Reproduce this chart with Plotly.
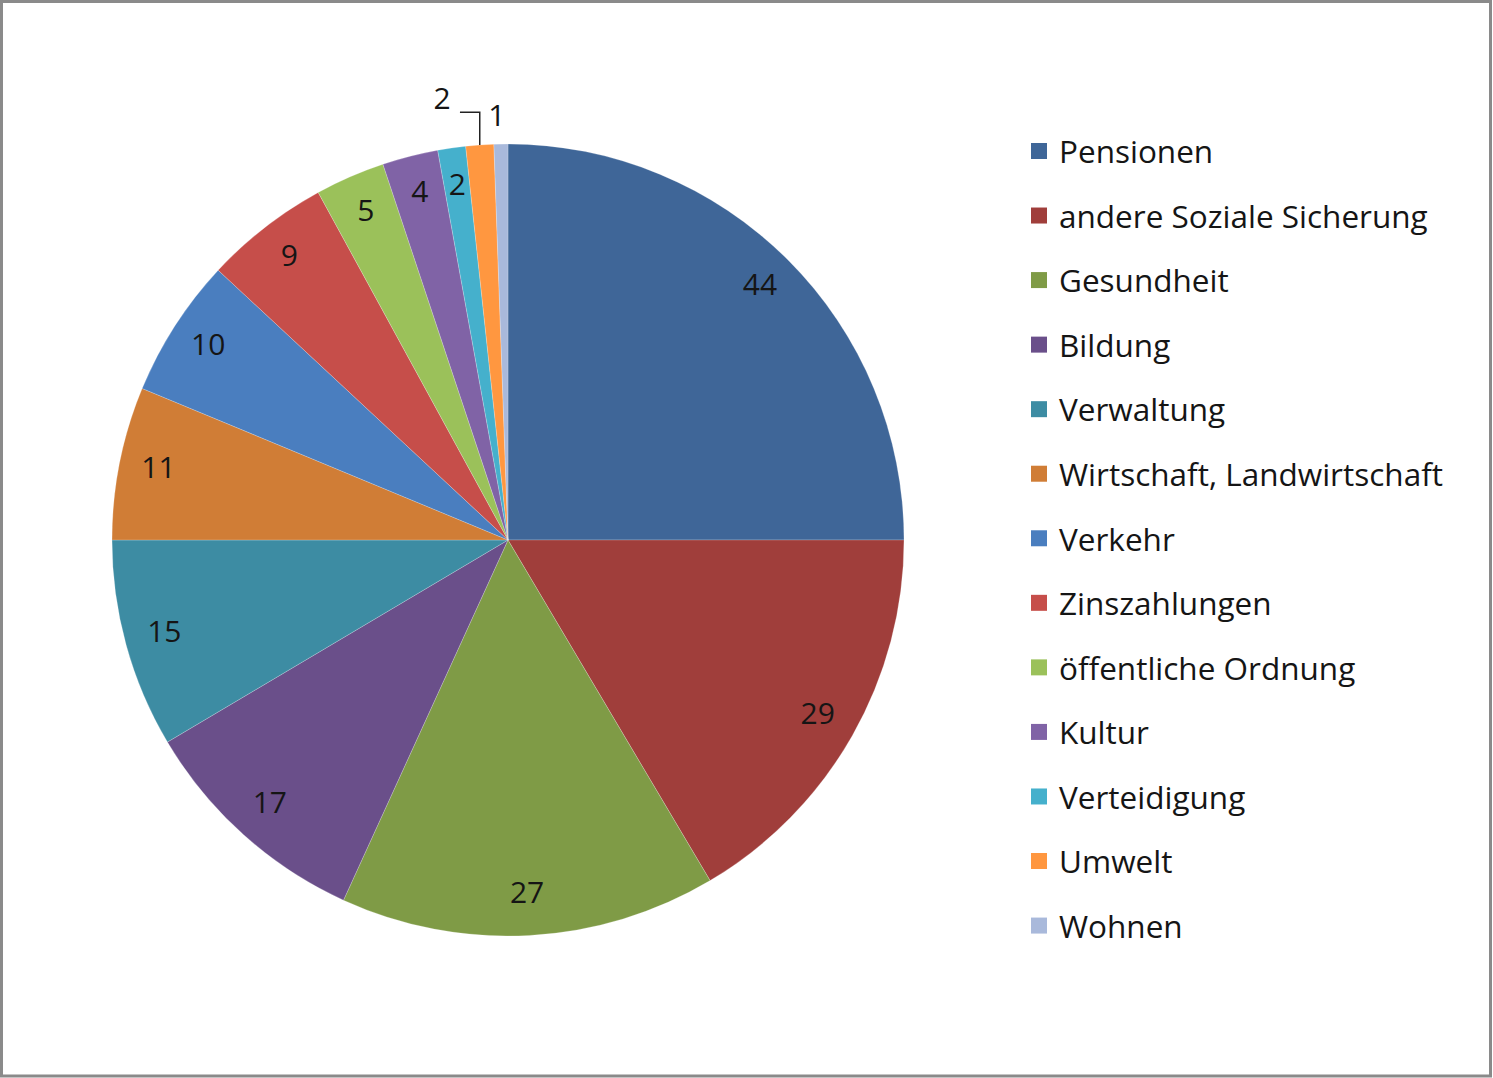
import math
import plotly.graph_objects as go

categories = ["Pensionen", "andere Soziale Sicherung", "Gesundheit", "Bildung", "Verwaltung",
              "Wirtschaft, Landwirtschaft", "Verkehr", "Zinszahlungen", "öffentliche Ordnung",
              "Kultur", "Verteidigung", "Umwelt", "Wohnen"]
values = [44, 29, 27, 17, 15, 11, 10, 9, 5, 4, 2, 2, 1]
colors = ["#3F6698", "#A03E3B", "#7F9B46", "#6A4F8A", "#3D8CA3", "#D07D36", "#4A7EBF",
          "#C64E4A", "#9BC15A", "#8063A6", "#45B0CC", "#FF9740", "#A9B9DB"]
outside = [False] * 11 + [True, True]

W, H = 1493, 1078
cx, cy, R = 508, 540, 396
RMAX = 1.15  # radial room for outside labels
FONT = "Open Sans"

total = sum(values)
widths, mids = [], []
acc = 0
for v in values:
    widths.append(v / total * 360)
    mids.append((acc + v / 2) / total * 360)
    acc += v


def to_polar(x, y):
    # x to the right, y upwards, in units of the radius; theta clockwise from 12 o'clock
    return math.hypot(x, y), math.degrees(math.atan2(x, y)) % 360


fig = go.Figure()
fig.add_trace(go.Barpolar(
    r=[1] * len(values), theta=mids, width=widths, base=0,
    marker=dict(color=colors, line=dict(color="rgba(255,255,255,0.35)", width=0.6)),
    customdata=categories, hovertemplate="%{customdata}: %{text}<extra></extra>",
    text=[str(v) for v in values], showlegend=False,
))

# inside labels
in_r = [0.9 for o in outside if not o]
in_t = [m for m, o in zip(mids, outside) if not o]
in_txt = [str(v) for v, o in zip(values, outside) if not o]
fig.add_trace(go.Scatterpolar(
    r=in_r, theta=in_t, text=in_txt, mode="text", textposition="middle center",
    textfont=dict(family=FONT, size=30, color="#151515"), showlegend=False, hoverinfo="skip",
))

# outside labels with leader line for Umwelt, plain for Wohnen
i_u = categories.index("Umwelt")
i_w = categories.index("Wohnen")
sx = math.sin(math.radians(mids[i_u]))
sy = math.cos(math.radians(mids[i_u]))
elbow_y = 1.08
p0 = (sx, sy)
p1 = (sx, elbow_y)
p2 = (sx - 0.05, elbow_y)
lab_u = (sx - 0.095, elbow_y + 0.028)
leader = [to_polar(*p) for p in (p0, p1, p2)]
fig.add_trace(go.Scatterpolar(
    r=[p[0] for p in leader], theta=[p[1] for p in leader], mode="lines",
    line=dict(color="#222222", width=1.5), showlegend=False, hoverinfo="skip",
    cliponaxis=False,
))
ru, tu = to_polar(*lab_u)
rw, tw = 1.066, mids[i_w] - 0.5
fig.add_trace(go.Scatterpolar(
    r=[ru, rw], theta=[tu, tw], text=[str(values[i_u]), str(values[i_w])],
    mode="text", textposition="middle center", cliponaxis=False,
    textfont=dict(family=FONT, size=30, color="#151515"), showlegend=False, hoverinfo="skip",
))

# legend entries
for i, (c, col) in enumerate(zip(categories, colors)):
    fig.add_trace(go.Scatterpolar(
        r=[None], theta=[None], mode="markers", name=c, legendgroup=f"g{i}",
        marker=dict(symbol="square", size=16, color=col),
    ))

fig.add_shape(type="rect", xref="paper", yref="paper",
              x0=1.5 / W, x1=1490.5 / W, y0=2 / H, y1=1 - 1.5 / H,
              line=dict(color="#8A8A8A", width=3))

Rd = R * RMAX
fig.update_layout(
    width=W, height=H, margin=dict(l=0, r=0, t=0, b=0),
    paper_bgcolor="white",
    polar=dict(
        domain=dict(x=[(cx - Rd) / W, (cx + Rd) / W], y=[(H - cy - Rd) / H, (H - cy + Rd) / H]),
        bgcolor="rgba(0,0,0,0)", bargap=0, hole=0,
        radialaxis=dict(visible=False, range=[0, RMAX]),
        angularaxis=dict(visible=False, rotation=90, direction="clockwise"),
    ),
    legend=dict(x=1019 / W, y=1 - 124 / H, xanchor="left", yanchor="top",
                font=dict(family=FONT, size=31.5, color="#151515"),
                tracegroupgap=20.6, bgcolor="rgba(0,0,0,0)"),
)
fig.write_html("out.html", post_script="document.body.style.margin='0px';",
               config={"displayModeBar": False})
